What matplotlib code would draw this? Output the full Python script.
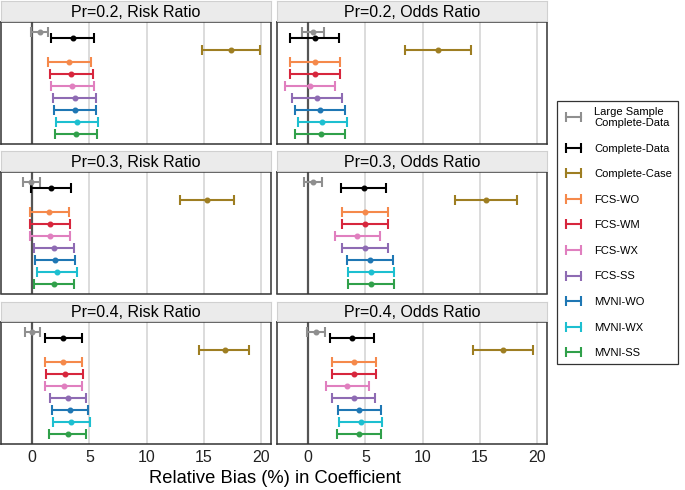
import matplotlib
matplotlib.use("Agg")
import matplotlib.pyplot as plt
from matplotlib.lines import Line2D

plt.rcParams['font.family'] = ['Liberation Sans', 'DejaVu Sans']

# methods, top row to bottom row in every panel
methods = ["Large Sample\nComplete-Data", "Complete-Data", "Complete-Case",
           "FCS-WO", "FCS-WM", "FCS-WX", "FCS-SS",
           "MVNI-WO", "MVNI-WX", "MVNI-SS"]
colors = ["#8F8F8F", "#000000", "#9E7E22", "#F5894B", "#D7263D",
          "#E07FBF", "#8E6BB3", "#1F77B4", "#1DBFD0", "#30A04A"]

titles = ["Pr=0.2, Risk Ratio", "Pr=0.2, Odds Ratio",
          "Pr=0.3, Risk Ratio", "Pr=0.3, Odds Ratio",
          "Pr=0.4, Risk Ratio", "Pr=0.4, Odds Ratio"]

# relative bias (%) estimates and interval bounds, one list per panel
rr2_est = [0.64, 3.52, 17.32, 3.25, 3.40, 3.46, 3.72, 3.72, 3.92, 3.81]
rr2_lo = [-0.11, 1.68, 14.82, 1.42, 1.57, 1.66, 1.86, 1.89, 2.09, 1.95]
rr2_hi = [1.42, 5.38, 19.85, 5.12, 5.32, 5.38, 5.58, 5.61, 5.78, 5.69]

or2_est = [0.41, 0.58, 11.31, 0.61, 0.61, 0.12, 0.76, 1.02, 1.20, 1.08]
or2_lo = [-0.50, -1.57, 8.43, -1.57, -1.57, -2.01, -1.40, -1.14, -0.93, -1.11]
or2_hi = [1.34, 2.71, 14.17, 2.80, 2.80, 2.30, 2.92, 3.21, 3.41, 3.23]

rr3_est = [-0.12, 1.66, 15.26, 1.48, 1.57, 1.54, 1.89, 2.01, 2.21, 1.92]
rr3_lo = [-0.84, -0.06, 12.87, -0.23, -0.17, -0.20, 0.12, 0.29, 0.46, 0.20]
rr3_hi = [0.64, 3.37, 17.64, 3.20, 3.31, 3.28, 3.63, 3.75, 3.95, 3.66]

or3_est = [0.41, 4.84, 15.51, 4.96, 4.96, 4.29, 4.93, 5.40, 5.49, 5.49]
or3_lo = [-0.38, 2.86, 12.83, 2.95, 2.95, 2.33, 2.95, 3.38, 3.47, 3.44]
or3_hi = [1.25, 6.82, 18.20, 6.97, 6.97, 6.30, 6.94, 7.41, 7.50, 7.52]

rr4_est = [0.00, 2.73, 16.83, 2.73, 2.88, 2.76, 3.14, 3.26, 3.43, 3.11]
rr4_lo = [-0.64, 1.16, 14.59, 1.10, 1.25, 1.16, 1.54, 1.69, 1.86, 1.51]
rr4_hi = [0.67, 4.33, 18.95, 4.33, 4.47, 4.36, 4.74, 4.88, 5.03, 4.71]

or4_est = [0.70, 3.82, 17.00, 4.02, 4.02, 3.41, 3.97, 4.46, 4.58, 4.43]
or4_lo = [-0.12, 1.92, 14.35, 2.10, 2.10, 1.52, 2.07, 2.57, 2.66, 2.54]
or4_hi = [1.49, 5.72, 19.66, 5.92, 5.92, 5.31, 5.86, 6.36, 6.47, 6.36]

panels = [(rr2_est, rr2_lo, rr2_hi), (or2_est, or2_lo, or2_hi),
          (rr3_est, rr3_lo, rr3_hi), (or3_est, or3_lo, or3_hi),
          (rr4_est, rr4_lo, rr4_hi), (or4_est, or4_lo, or4_hi)]

xticks = [0, 5, 10, 15, 20]

# row positions: the two complete-data rows sit half a step apart
ypos = [0, 0.5] + [1.5 + i for i in range(len(methods) - 2)]

W, H = 685, 490
fig = plt.figure(figsize=(W / 100, H / 100), dpi=100)

col_x = [1, 277]
panel_w = 269.5
row_top = [22, 172, 322]
panel_h = 121.5
strip_h = 19.5

for k, (est, lo, hi) in enumerate(panels):
    r, c = divmod(k, 2)
    x0 = col_x[c]
    top = row_top[r]
    ax = fig.add_axes([x0 / W, 1 - (top + panel_h) / H, panel_w / W, panel_h / H])
    for x in xticks[1:]:
        ax.axvline(x, color="#D9D9D9", lw=1.3, zorder=0)
    ax.axvline(0, color="#555555", lw=1.6, zorder=1)
    for i in range(len(methods)):
        ax.errorbar(est[i], ypos[i], xerr=[[est[i] - lo[i]], [hi[i] - est[i]]],
                    fmt='o', color=colors[i], ms=3.3, lw=1.5, capsize=3.5,
                    capthick=1.5, zorder=3)
    ax.set_xlim(-2.72, 20.8)
    ax.set_ylim(9.27, -0.79)
    ax.set_yticks([])
    ax.set_xticks(xticks)
    ax.tick_params(axis='x', length=0, pad=5, labelsize=11.5, colors="#222222")
    if r < 2:
        ax.tick_params(axis='x', labelbottom=False)
    for s in ax.spines.values():
        s.set_color("#333333")
        s.set_linewidth(1.1)

    # strip header
    sax = fig.add_axes([x0 / W, 1 - (top - 1) / H, panel_w / W, strip_h / H])
    sax.set_facecolor("#EBEBEB")
    sax.set_xticks([])
    sax.set_yticks([])
    for s in sax.spines.values():
        s.set_color("#D0D0D0")
        s.set_linewidth(0.8)
    sax.text(0.5, 0.45, titles[k], ha='center', va='center', fontsize=11.5,
             transform=sax.transAxes)

fig.text((2 + 547) / 2 / W, 1 - 478 / H, "Relative Bias (%) in Coefficient",
         ha='center', va='center', fontsize=13.2)

handles = [Line2D([], [], color=colors[i], lw=1.5, marker='|', ms=7, mew=1.5)
           for i in range(len(methods))]
leg = fig.legend(handles, methods, loc='upper left',
                 bbox_to_anchor=(557 / W, 1 - 101 / H), borderaxespad=0,
                 numpoints=2, fontsize=8, handlelength=2.0, handletextpad=0.85,
                 labelspacing=1.4, fancybox=False, frameon=True,
                 borderpad=0.5)
leg.get_frame().set_edgecolor("#000000")
leg.get_frame().set_linewidth(0.9)

fig.savefig("out.png", dpi=100)
